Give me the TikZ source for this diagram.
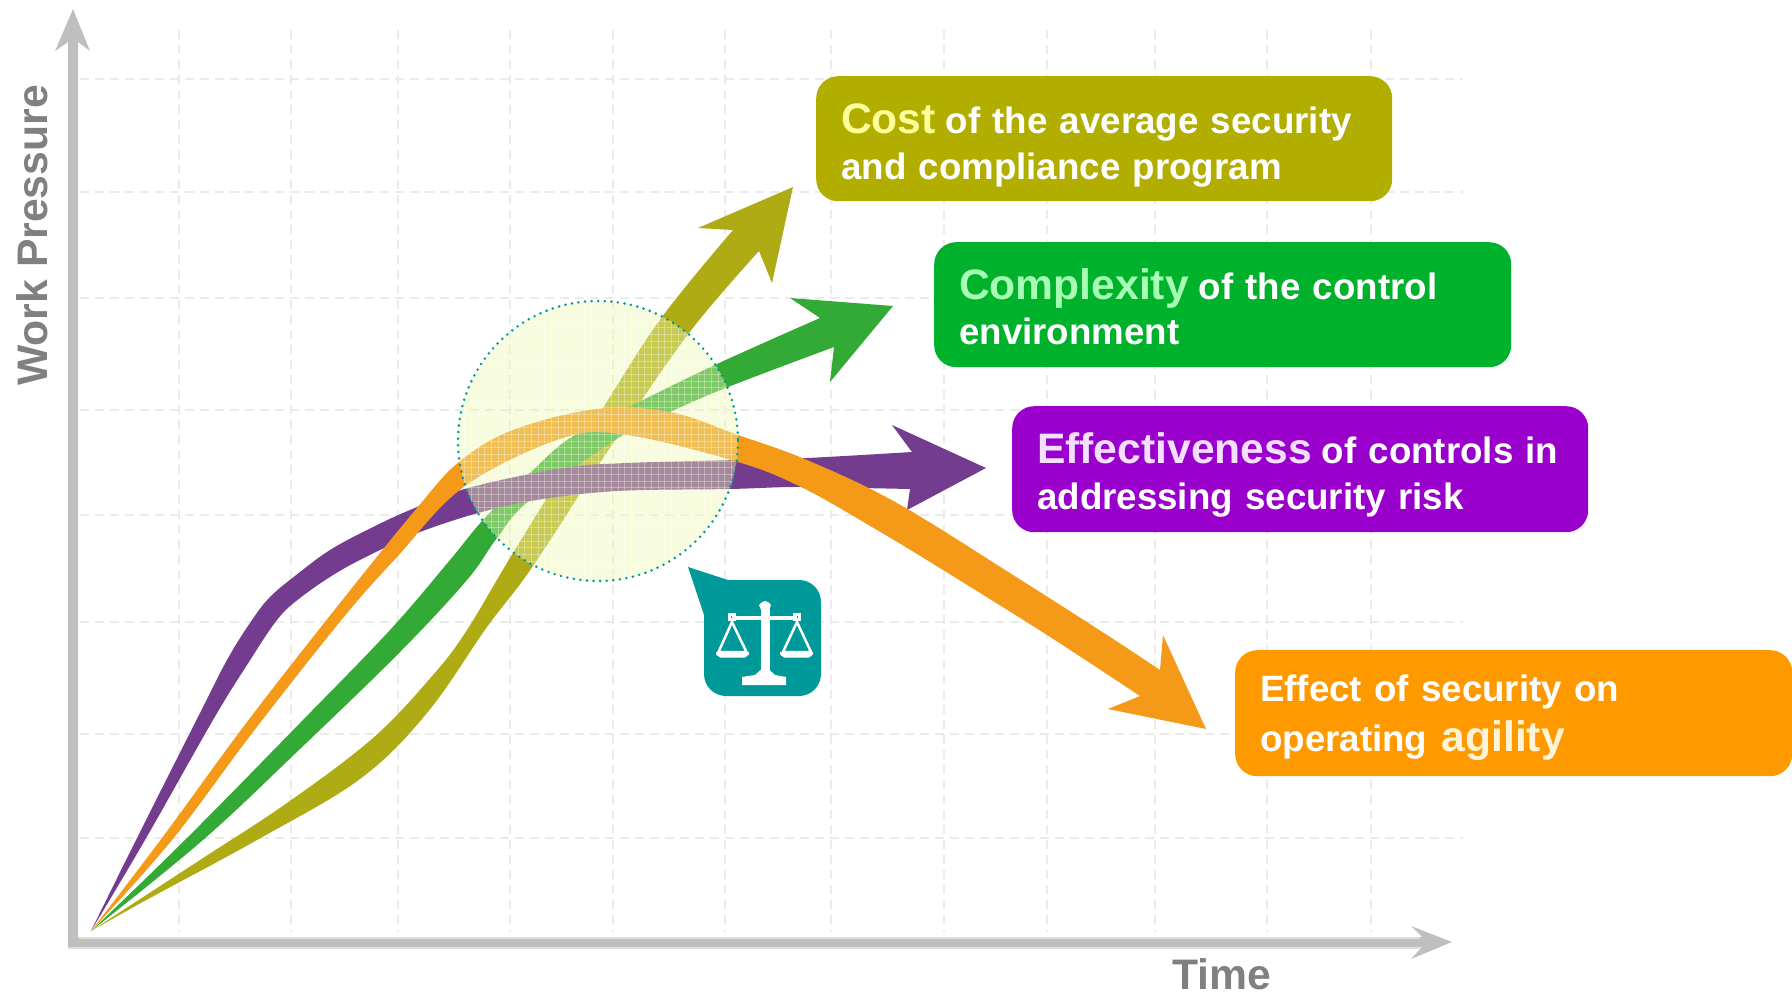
\documentclass[tikz,border=0pt]{standalone}
\usepackage{fontspec}
\setmainfont{Liberation Sans}
\usetikzlibrary{calc}
\definecolor{gridc}{HTML}{EBEBEB}
\definecolor{axisc}{HTML}{BFBFBD}
\definecolor{axisl}{HTML}{DEDEDC}
\definecolor{labc}{HTML}{808080}
\definecolor{aolive}{HTML}{AFAB14}
\definecolor{agreen}{HTML}{33AA35}
\definecolor{apurple}{HTML}{733C8E}
\definecolor{aorange}{HTML}{F59918}
\definecolor{bolive}{HTML}{B2AE00}
\definecolor{bgreen}{HTML}{00B22B}
\definecolor{bpurple}{HTML}{9900CC}
\definecolor{borange}{HTML}{FF9900}
\definecolor{teal}{HTML}{009999}
\definecolor{lens}{HTML}{EAF7AC}
\definecolor{hiolive}{HTML}{FFFF99}
\definecolor{higreen}{HTML}{A6FFB3}
\definecolor{hipurple}{HTML}{F5DFFF}
\definecolor{hiorange}{HTML}{FFF5D6}
\newcommand{\toph}{\rule{0pt}{45pt}}
\newcommand{\tophb}{\rule{0pt}{36pt}}
\newcommand{\both}{\rule[-10pt]{0pt}{10pt}}
\newcommand{\bigw}[2]{{\color{#1}\fontsize{42.6}{46}\selectfont #2}}
\tikzset{
  gridline/.style={gridc,line width=2pt,dash pattern=on 9pt off 6pt},
  callout/.style={rounded corners=22pt,anchor=north west,text=white,align=left,inner xsep=25pt,inner ysep=0pt,
    font=\bfseries\fontsize{36.7}{46}\selectfont},
  axislabel/.style={text=labc,font=\bfseries\fontsize{42.7}{46}\selectfont,inner sep=0pt},
  lattice/.style={white,opacity=.32,line width=.9pt},
}
\begin{document}
\begin{tikzpicture}[x=1pt,y=-1pt]
\useasboundingbox (0,0) rectangle (1792,993);
% grid
\foreach \x in {179,291,398,510,613,725,831,944,1047,1155,1267,1371}
  \draw[gridline] (\x,30) -- (\x,932);
\foreach \y in {79,192,298,410,515,622,734,838}
  \draw[gridline] (80,\y) -- (1463,\y);
% axes
\fill[axisc] (68,947) -- (68,42) -- (55,51) -- (73,9) -- (90,51) -- (78,42) -- (78,937) -- (1422,937) -- (1411,926) -- (1452,942) -- (1411,959) -- (1422,947) -- cycle;
\fill[axisl] (68,947) rectangle (1420,949);
\fill[axisl] (79,937) rectangle (1420,938.5);
% olive arrow
\fill[aolive] (91,931)
  -- plot[smooth,tension=.6] coordinates {(91,931) (200,860) (287,803) (373,738) (433,675) (467,630) (513,553) (603,408) (662,317) (733,230)}
  -- (698,228) -- (793,187) -- (772,283) -- (759,251)
  -- plot[smooth,tension=.6] coordinates {(759,251) (689,333) (613,443) (533,566) (487,627) (427,713) (360,779) (257,840) (150,898) (91,931)} -- cycle;
% green arrow
\fill[agreen] (91,931)
  -- plot[smooth,tension=.6] coordinates {(91,931) (187,838) (300,723) (390,630) (450,560) (483,520) (530,473) (570,438) (627,408) (717,364) (820,318)}
  -- (790,298) -- (893,306) -- (830,382) -- (834,347)
  -- plot[smooth,tension=.6] coordinates {(834,347) (728,387) (670,412) (623,435) (530,500) (497,538) (467,580) (400,652) (300,749) (203,840) (91,931)} -- cycle;
% purple arrow
\fill[apurple] (91,931)
  -- plot[smooth,tension=.6] coordinates {(91,931) (137,838) (200,713) (227,660) (250,623) (270,597) (300,572) (330,550) (367,530) (410,510) (468,488) (563,468) (627,463) (737,460) (807,458) (912,452)}
  -- (892,425) -- (986,468) -- (907,510) -- (910,489)
  -- plot[smooth,tension=.6] coordinates {(910,489) (860,488) (793,487) (730,489) (617,491) (537,500) (478,513) (420,532) (380,550) (338,572) (300,598) (277,620) (247,665) (213,720) (145,840) (91,931)} -- cycle;
% orange arrow
\fill[aorange] (91,931)
  -- plot[smooth,tension=.6] coordinates {(91,931) (162,838) (247,722) (340,603) (417,508) (459,462) (513,430) (597,409) (670,412) (738,435) (807,460) (897,503) (1013,575) (1107,635) (1160,670)}
  -- (1163,635) -- (1206,729) -- (1108,709) -- (1140,696)
  -- plot[smooth,tension=.6] coordinates {(1140,696) (1047,635) (943,570) (877,530) (803,488) (738,462) (627,435) (563,438) (465,486) (397,557) (343,618) (253,732) (172,840) (91,931)} -- cycle;
% lens
\fill[lens,opacity=.42] (598,441) circle[radius=140];
\begin{scope}
  \clip (598,441) circle[radius=140];
  \foreach \x in {0,...,42} \draw[lattice] (458+6.67*\x,300) -- (458+6.67*\x,582);
  \foreach \y in {0,...,42} \draw[lattice] (457,301+6.67*\y) -- (739,301+6.67*\y);
\end{scope}
\draw[teal,line width=2.8pt,line cap=round,dash pattern=on 0pt off 6.6pt] (598,441) circle[radius=140];
% scale bubble
\fill[teal] (688,567) -- (728,580) -- (799,580) arc[start angle=-90,end angle=0,radius=22] -- (821,674) arc[start angle=0,end angle=90,radius=22] -- (726,696) arc[start angle=90,end angle=180,radius=22] -- (704,615) -- cycle;
% scale icon
\begin{scope}[white]
  \fill (760.5,609) rectangle (769.5,672);
  \fill (760.5,670) -- (755,675) -- (742,677) -- (742,685) -- (786,685) -- (786,677) -- (775,675) -- (769.5,670) -- cycle;
  \fill (762,602) -- (765,601) -- (768,602) -- (771,605) -- (769,610) -- (761,610) -- (759,605) -- cycle;
  \fill (732,615.5) rectangle (797,619.5);
  \draw[line width=2.2pt] (729.5,614.5) rectangle (734.5,619.5);
  \draw[line width=2.2pt] (794.5,614.5) rectangle (799.5,619.5);
  \draw[line width=2.5pt,line join=round] (732,622) -- (718.5,652) -- (746.5,652) -- cycle;
  \draw[line width=2.5pt,line join=round] (797,622) -- (783,652) -- (811,652) -- cycle;
  \fill (716,652) -- (749,652) -- (749,654.5) -- (745,657.5) -- (720,657.5) -- (716,654.5) -- cycle;
  \fill (780,652) -- (813,652) -- (813,654.5) -- (809,657.5) -- (784,657.5) -- (780,654.5) -- cycle;
\end{scope}
% callouts
\node[callout,fill=bolive,text width=526pt,minimum height=125pt] (cost) at (816,76)
  {\toph\bigw{hiolive}{Cost}\hspace{-2.3pt} of the average security\\and compliance program\both};
\node[callout,fill=bgreen,text width=527pt,minimum height=125pt] (complexity) at (934,242)
  {\toph\bigw{higreen}{Complexity}\hspace{-2.3pt} of the control\\[-1pt]environment\both};
\node[callout,fill=bpurple,text width=526pt,minimum height=126pt] (effectiveness) at (1012,406)
  {\toph\bigw{hipurple}{Effectiveness}\hspace{-2.3pt} of controls in\\addressing security risk\both};
\node[callout,fill=borange,text width=507pt,minimum height=126pt] (agility) at (1235,650)
  {\tophb Effect of security on\\[4pt]operating \hspace{2pt}\bigw{hiorange}{agility}\both};
% axis labels
\node[axislabel,rotate=90,anchor=base west] (ylab) at (47,386) {Work Pressure};
\node[axislabel,anchor=base west] (xlab) at (1172,989) {Time};
\end{tikzpicture}
\end{document}
